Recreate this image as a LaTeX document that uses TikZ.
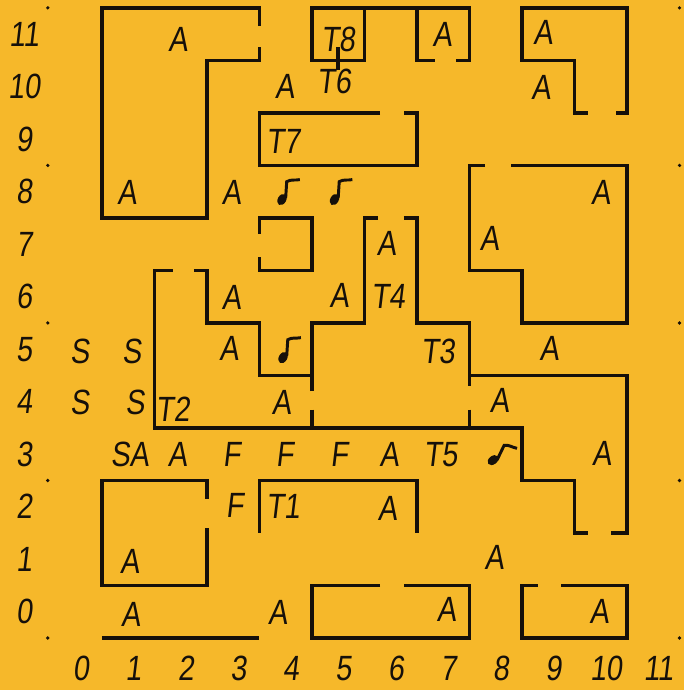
\documentclass[tikz,border=0pt]{standalone}
\usepackage{fontspec}
\setmainfont{Liberation Sans}[FakeStretch=0.82,FakeSlant=0.12]
\usetikzlibrary{positioning,calc}

\definecolor{paper}{RGB}{246,184,42}
\definecolor{ink}{RGB}{22,16,10}

\begin{document}
\begin{tikzpicture}[
    font=\fontsize{19}{20}\selectfont,
    wall/.style={line width=2pt, draw=ink},
    lbl/.style={text=ink, inner sep=0pt},
    num/.style={text=ink, inner sep=0pt},
    gridmark/.style={fill=ink},
    musicnote/.pic={
        \fill[ink, rotate around={-30:(-0.07,-0.15)}] (-0.07,-0.15) ellipse [x radius=0.08, y radius=0.115];
        \draw[ink, line width=1.6pt] (0,-0.12) -- (0.02,0.19) .. controls (0.1,0.24) and (0.18,0.21) .. (0.27,0.23);
    }
]

% Paper
\useasboundingbox (-1.44,-1.49) rectangle (11.58,11.65);
\fill[paper] (-1.44,-1.49) rectangle (11.58,11.65);

% Axis numbers and corner dots
\foreach \r in {0,...,11} \node[num] (row\r) at (-0.98,\r) {\r};
\foreach \c in {0,...,11} \node[num] (col\c) at (\c+0.1,-1.08) {\c};
\foreach \d in {11.5,8.5,5.5,2.5,-0.5} {
    \fill[gridmark] (-0.53,\d) circle (0.035);
    \fill[gridmark] (11.5,\d) circle (0.035);
}

% Top left room
\draw[wall] (3.5,11.15) -- (3.5,11.5) -- (0.5,11.5) -- (0.5,7.5) -- (2.5,7.5) -- (2.5,10.5) -- (3.5,10.5) -- (3.5,10.75);

% T8 and the room beside it
\draw[wall] (4.5,10.5) rectangle (5.5,11.5);
\draw[wall] (5.5,11.5) -- (7.5,11.5) -- (7.5,10.5) -- (7.25,10.5);
\draw[wall] (6.5,11.5) -- (6.5,10.5) -- (6.85,10.5);
\draw[wall] (5,10.75) -- (5,10.32);

% Top right room
\draw[wall] (9.75,9.5) -- (9.5,9.5) -- (9.5,10.5) -- (8.5,10.5) -- (8.5,11.5) -- (10.5,11.5) -- (10.5,9.5) -- (10.3,9.5);

% T7
\draw[wall] (5.8,9.5) -- (3.5,9.5) -- (3.5,8.5) -- (6.5,8.5) -- (6.5,9.5) -- (6.25,9.5);

% Small box, row 7
\draw[wall] (3.5,7.2) -- (3.5,7.5) -- (4.5,7.5) -- (4.5,6.5) -- (3.5,6.5) -- (3.5,6.75);

% Right middle room
\draw[wall] (7.8,8.5) -- (7.5,8.5) -- (7.5,6.5) -- (8.5,6.5) -- (8.5,5.5) -- (10.5,5.5) -- (10.5,8.5) -- (8.3,8.5);

% Central block: T2, T4, T3
\draw[wall] (1.85,6.5) -- (1.5,6.5) -- (1.5,3.5) -- (8.5,3.5) -- (8.5,2.5) -- (9.5,2.5) -- (9.5,1.5) -- (9.75,1.5);
\draw[wall] (2.25,6.5) -- (2.5,6.5) -- (2.5,5.5) -- (3.5,5.5) -- (3.5,4.5) -- (4.5,4.5);
\draw[wall] (4.5,4.2) -- (4.5,5.5) -- (5.5,5.5) -- (5.5,7.5) -- (5.75,7.5);
\draw[wall] (6.25,7.5) -- (6.5,7.5) -- (6.5,5.5) -- (7.5,5.5) -- (7.5,4.3);
\draw[wall] (4.5,3.85) -- (4.5,3.5);
\draw[wall] (7.5,3.85) -- (7.5,3.5);
\draw[wall] (7.5,4.5) -- (10.5,4.5) -- (10.5,1.5) -- (10.2,1.5);

% Lower left room and bottom line
\draw[wall] (2.5,2.15) -- (2.5,2.5) -- (0.5,2.5) -- (0.5,0.5) -- (2.5,0.5) -- (2.5,1.6);
\draw[wall] (0.5,-0.5) -- (3.5,-0.5);

% T1
\draw[wall] (3.5,1.5) -- (3.5,2.5) -- (6.5,2.5) -- (6.5,1.5);

% Bottom rooms
\draw[wall] (5.8,0.5) -- (4.5,0.5) -- (4.5,-0.5) -- (7.5,-0.5) -- (7.5,0.5) -- (6.25,0.5);
\draw[wall] (9.25,0.5) -- (10.5,0.5) -- (10.5,-0.5) -- (8.5,-0.5) -- (8.5,0.5) -- (8.8,0.5);

% Room names
\node[lbl] (t8) at (5,10.9) {T8};
\node[lbl] (t6) at (4.92,10.1) {T6};
\node[lbl] (t7) at (3.95,8.95) {T7};
\node[lbl] (t4) at (5.95,6) {T4};
\node[lbl] (t3) at (6.9,4.95) {T3};
\node[lbl] (t2) at (1.85,3.85) {T2};
\node[lbl] (t5) at (6.95,3) {T5};
\node[lbl] (t1) at (3.95,2) {T1};

% Letters in the cells
\node[lbl] (a-2-11) at (1.95,10.9) {A};
\node[lbl] (a-7-11) at (6.98,11) {A};
\node[lbl] (a-9-11) at (8.9,11.03) {A};
\node[lbl] (a-4-10) at (3.98,10) {A};
\node[lbl] (a-9-10) at (8.86,9.98) {A};
\node[lbl] (a-1-8) at (0.98,7.98) {A};
\node[lbl] (a-3-8) at (2.97,7.98) {A};
\node[lbl] (a-10-8) at (10,7.98) {A};
\node[lbl] (a-6-7) at (5.92,7.02) {A};
\node[lbl] (a-8-7) at (7.88,7.1) {A};
\node[lbl] (a-3-6) at (2.97,5.98) {A};
\node[lbl] (a-5-6) at (5.02,6.03) {A};
\node[lbl] (a-3-5) at (2.92,5.02) {A};
\node[lbl] (a-9-5) at (9.02,5.02) {A};
\node[lbl] (a-4-4) at (3.92,3.99) {A};
\node[lbl] (a-8-4) at (8.07,4.03) {A};
\node[lbl] (sa-1-3) at (1.03,3) {SA};
\node[lbl] (a-2-3) at (1.94,3) {A};
\node[lbl] (f-3-3) at (2.97,3) {F};
\node[lbl] (f-4-3) at (3.98,3) {F};
\node[lbl] (f-5-3) at (5.02,3) {F};
\node[lbl] (a-6-3) at (5.97,3) {A};
\node[lbl] (a-10-3) at (10.02,3.02) {A};
\node[lbl] (f-3-2) at (3.03,2.03) {F};
\node[lbl] (a-6-2) at (5.94,1.97) {A};
\node[lbl] (a-1-1) at (1.03,0.95) {A};
\node[lbl] (a-8-1) at (7.97,1.04) {A};
\node[lbl] (a-1-0) at (1.05,-0.06) {A};
\node[lbl] (a-4-0) at (3.85,-0.02) {A};
\node[lbl] (a-7-0) at (7.06,0.05) {A};
\node[lbl] (a-10-0) at (9.97,0) {A};
\node[lbl] (s-0-5) at (0.08,4.95) {S};
\node[lbl] (s-1-5) at (1.07,4.95) {S};
\node[lbl] (s-0-4) at (0.08,3.99) {S};
\node[lbl] (s-1-4) at (1.13,3.99) {S};

% Notes
\pic (n-4-8) at (4,8) {musicnote};
\pic (n-5-8) at (5,8) {musicnote};
\pic (n-4-5) at (4.02,4.99) {musicnote};
\pic[rotate=-22] (n-8-3) at (8.07,3) {musicnote};

\end{tikzpicture}
\end{document}
